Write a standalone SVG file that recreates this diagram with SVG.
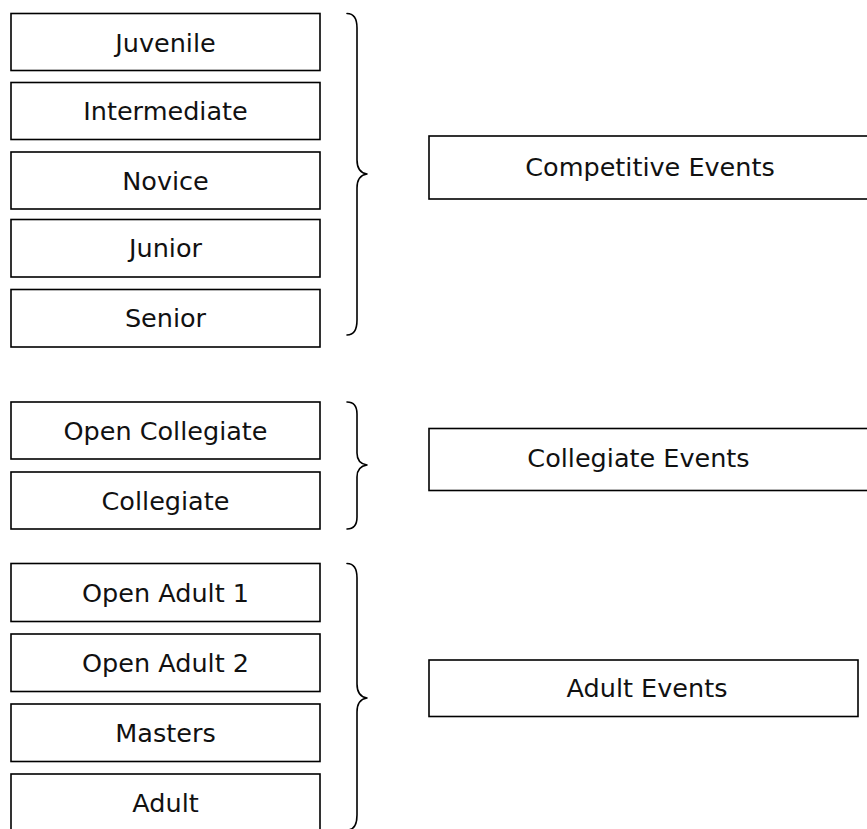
<svg xmlns="http://www.w3.org/2000/svg" width="867" height="829" viewBox="0 0 867 829">
  <style>
    .box { fill: #ffffff; stroke: #000000; stroke-width: 1.6; }
    .brace { fill: none; stroke: #000000; stroke-width: 1.6; stroke-linecap: round; stroke-linejoin: round; }
    .lbl { font-family: "DejaVu Sans", "Liberation Sans", sans-serif; font-size: 25.5px; fill: #111111; text-anchor: middle; }
  </style>
  <rect width="867" height="829" fill="#ffffff"/>

  <g id="juvenile"><rect class="box" x="11" y="13.5" width="309" height="57"/><text class="lbl" x="165.5" y="52">Juvenile</text></g>
  <g id="intermediate"><rect class="box" x="11" y="82.5" width="309" height="57"/><text class="lbl" x="165.5" y="120">Intermediate</text></g>
  <g id="novice"><rect class="box" x="11" y="152" width="309" height="57"/><text class="lbl" x="165.5" y="189.5">Novice</text></g>
  <g id="junior"><rect class="box" x="11" y="219.5" width="309" height="57.5"/><text class="lbl" x="165.5" y="257">Junior</text></g>
  <g id="senior"><rect class="box" x="11" y="289.5" width="309" height="57.5"/><text class="lbl" x="165.5" y="327">Senior</text></g>

  <g id="open-collegiate"><rect class="box" x="11" y="402" width="309" height="57"/><text class="lbl" x="165.5" y="439.5">Open Collegiate</text></g>
  <g id="collegiate"><rect class="box" x="11" y="472" width="309" height="57"/><text class="lbl" x="165.5" y="509.5">Collegiate</text></g>

  <g id="open-adult-1"><rect class="box" x="11" y="563.5" width="309" height="58"/><text class="lbl" x="165.5" y="601.5">Open Adult 1</text></g>
  <g id="open-adult-2"><rect class="box" x="11" y="634" width="309" height="57.5"/><text class="lbl" x="165.5" y="672">Open Adult 2</text></g>
  <g id="masters"><rect class="box" x="11" y="704" width="309" height="57.5"/><text class="lbl" x="165.5" y="742">Masters</text></g>
  <g id="adult"><rect class="box" x="11" y="774" width="309" height="60"/><text class="lbl" x="165.5" y="812">Adult</text></g>

  <g id="competitive-events"><rect class="box" x="429" y="136" width="445" height="63"/><text class="lbl" x="650" y="175.5">Competitive Events</text></g>
  <g id="collegiate-events"><rect class="box" x="429" y="428.5" width="445" height="62"/><text class="lbl" x="638.5" y="466.5">Collegiate Events</text></g>
  <g id="adult-events"><rect class="box" x="429" y="660" width="429" height="56.5"/><text class="lbl" x="647" y="697">Adult Events</text></g>

  <g id="connectors">
    <path class="brace" d="M347,13.5 C354,13.5 357,18 357,28 L357,160 C357,168 360,173 367,174 C360,175 357,180 357,188 L357,320 C357,330 354,335 347,335"/>
    <path class="brace" d="M347,402 C354,402 357,406 357,414 L357,453 C357,460 360,464 367,465 C360,466 357,470 357,477 L357,517 C357,524 354,529 347,529"/>
    <path class="brace" d="M347,563.5 C354,563.5 357,568 357,578 L357,684 C357,692 360,697 367,698 C360,699 357,704 357,712 L357,815 C357,825 354,830 347,830"/>
  </g>
</svg>
